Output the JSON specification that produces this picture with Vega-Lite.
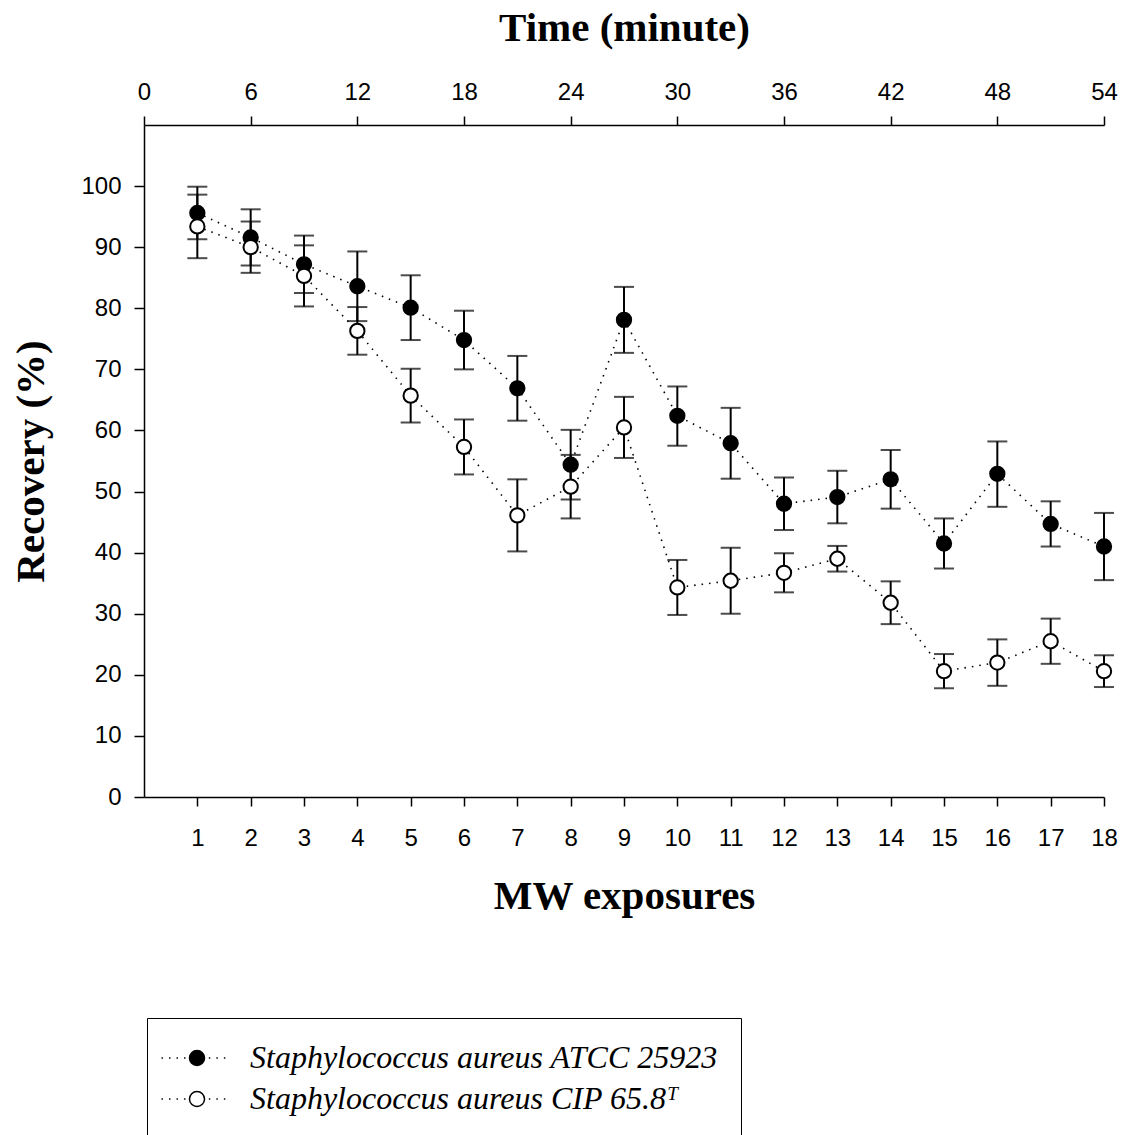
{
  "$schema": "https://vega.github.io/schema/vega-lite/v6.json",
  "autosize": "none",
  "padding": {"left": 144, "top": 125, "right": 31, "bottom": 338},
  "width": 960,
  "height": 672,
  "background": "white",
  "data": {
    "values": [
      {"exposure": 1, "series": "Staphylococcus aureus ATCC 25923", "recovery": 95.6, "lo": 91.3, "hi": 99.9},
      {"exposure": 2, "series": "Staphylococcus aureus ATCC 25923", "recovery": 91.6, "lo": 87.0, "hi": 96.2},
      {"exposure": 3, "series": "Staphylococcus aureus ATCC 25923", "recovery": 87.2, "lo": 82.5, "hi": 91.9},
      {"exposure": 4, "series": "Staphylococcus aureus ATCC 25923", "recovery": 83.6, "lo": 77.9, "hi": 89.3},
      {"exposure": 5, "series": "Staphylococcus aureus ATCC 25923", "recovery": 80.1, "lo": 74.8, "hi": 85.4},
      {"exposure": 6, "series": "Staphylococcus aureus ATCC 25923", "recovery": 74.8, "lo": 70.0, "hi": 79.6},
      {"exposure": 7, "series": "Staphylococcus aureus ATCC 25923", "recovery": 66.9, "lo": 61.6, "hi": 72.2},
      {"exposure": 8, "series": "Staphylococcus aureus ATCC 25923", "recovery": 54.4, "lo": 48.7, "hi": 60.1},
      {"exposure": 9, "series": "Staphylococcus aureus ATCC 25923", "recovery": 78.1, "lo": 72.7, "hi": 83.5},
      {"exposure": 10, "series": "Staphylococcus aureus ATCC 25923", "recovery": 62.4, "lo": 57.5, "hi": 67.2},
      {"exposure": 11, "series": "Staphylococcus aureus ATCC 25923", "recovery": 57.9, "lo": 52.1, "hi": 63.7},
      {"exposure": 12, "series": "Staphylococcus aureus ATCC 25923", "recovery": 48.0, "lo": 43.7, "hi": 52.3},
      {"exposure": 13, "series": "Staphylococcus aureus ATCC 25923", "recovery": 49.1, "lo": 44.8, "hi": 53.4},
      {"exposure": 14, "series": "Staphylococcus aureus ATCC 25923", "recovery": 52.0, "lo": 47.2, "hi": 56.8},
      {"exposure": 15, "series": "Staphylococcus aureus ATCC 25923", "recovery": 41.5, "lo": 37.4, "hi": 45.6},
      {"exposure": 16, "series": "Staphylococcus aureus ATCC 25923", "recovery": 52.9, "lo": 47.5, "hi": 58.2},
      {"exposure": 17, "series": "Staphylococcus aureus ATCC 25923", "recovery": 44.7, "lo": 41.0, "hi": 48.4},
      {"exposure": 18, "series": "Staphylococcus aureus ATCC 25923", "recovery": 41.0, "lo": 35.5, "hi": 46.5},
      {"exposure": 1, "series": "Staphylococcus aureus CIP 65.8ᵀ", "recovery": 93.4, "lo": 88.2, "hi": 98.6},
      {"exposure": 2, "series": "Staphylococcus aureus CIP 65.8ᵀ", "recovery": 90.0, "lo": 85.8, "hi": 94.2},
      {"exposure": 3, "series": "Staphylococcus aureus CIP 65.8ᵀ", "recovery": 85.3, "lo": 80.3, "hi": 90.3},
      {"exposure": 4, "series": "Staphylococcus aureus CIP 65.8ᵀ", "recovery": 76.3, "lo": 72.4, "hi": 80.2},
      {"exposure": 5, "series": "Staphylococcus aureus CIP 65.8ᵀ", "recovery": 65.7, "lo": 61.3, "hi": 70.1},
      {"exposure": 6, "series": "Staphylococcus aureus CIP 65.8ᵀ", "recovery": 57.3, "lo": 52.8, "hi": 61.8},
      {"exposure": 7, "series": "Staphylococcus aureus CIP 65.8ᵀ", "recovery": 46.1, "lo": 40.2, "hi": 52.0},
      {"exposure": 8, "series": "Staphylococcus aureus CIP 65.8ᵀ", "recovery": 50.8, "lo": 45.6, "hi": 56.0},
      {"exposure": 9, "series": "Staphylococcus aureus CIP 65.8ᵀ", "recovery": 60.5, "lo": 55.5, "hi": 65.5},
      {"exposure": 10, "series": "Staphylococcus aureus CIP 65.8ᵀ", "recovery": 34.3, "lo": 29.8, "hi": 38.8},
      {"exposure": 11, "series": "Staphylococcus aureus CIP 65.8ᵀ", "recovery": 35.4, "lo": 30.0, "hi": 40.8},
      {"exposure": 12, "series": "Staphylococcus aureus CIP 65.8ᵀ", "recovery": 36.7, "lo": 33.5, "hi": 39.9},
      {"exposure": 13, "series": "Staphylococcus aureus CIP 65.8ᵀ", "recovery": 39.0, "lo": 36.9, "hi": 41.1},
      {"exposure": 14, "series": "Staphylococcus aureus CIP 65.8ᵀ", "recovery": 31.8, "lo": 28.3, "hi": 35.3},
      {"exposure": 15, "series": "Staphylococcus aureus CIP 65.8ᵀ", "recovery": 20.6, "lo": 17.8, "hi": 23.4},
      {"exposure": 16, "series": "Staphylococcus aureus CIP 65.8ᵀ", "recovery": 22.0, "lo": 18.2, "hi": 25.8},
      {"exposure": 17, "series": "Staphylococcus aureus CIP 65.8ᵀ", "recovery": 25.5, "lo": 21.8, "hi": 29.2},
      {"exposure": 18, "series": "Staphylococcus aureus CIP 65.8ᵀ", "recovery": 20.6, "lo": 18.0, "hi": 23.2}
    ]
  },
  "layer": [
    {
      "mark": {"type": "line", "color": "black", "strokeWidth": 1.6, "strokeDash": [1.5, 6]},
      "encoding": {
        "x": {"field": "exposure", "type": "quantitative", "scale": {"domain": [0, 18], "nice": false},
              "axis": {"orient": "bottom", "values": [1,2,3,4,5,6,7,8,9,10,11,12,13,14,15,16,17,18], "title": "MW exposures", "tickSize": 9, "labelPadding": 20, "titlePadding": 26}},
        "y": {"field": "recovery", "type": "quantitative", "scale": {"domain": [0, 110], "nice": false},
              "axis": {"values": [0,10,20,30,40,50,60,70,80,90,100], "title": "Recovery (%)", "tickSize": 10, "labelPadding": 13, "titlePadding": 28}},
        "detail": {"field": "series"}
      }
    },
    {
      "mark": {"type": "rule", "color": "black", "strokeWidth": 2},
      "encoding": {
        "x": {"field": "exposure", "type": "quantitative", "axis": null},
        "y": {"field": "lo", "type": "quantitative",
              "axis": {"values": [0,10,20,30,40,50,60,70,80,90,100], "title": "Recovery (%)", "tickSize": 10, "labelPadding": 13, "titlePadding": 28}},
        "y2": {"field": "hi"}
      }
    },
    {
      "mark": {"type": "tick", "orient": "horizontal", "color": "black", "size": 20, "thickness": 2},
      "encoding": {
        "x": {"field": "exposure", "type": "quantitative", "axis": null},
        "y": {"field": "lo", "type": "quantitative",
              "axis": {"values": [0,10,20,30,40,50,60,70,80,90,100], "title": "Recovery (%)", "tickSize": 10, "labelPadding": 13, "titlePadding": 28}}
      }
    },
    {
      "mark": {"type": "tick", "orient": "horizontal", "color": "black", "size": 20, "thickness": 2},
      "encoding": {
        "x": {"field": "exposure", "type": "quantitative", "axis": null},
        "y": {"field": "hi", "type": "quantitative",
              "axis": {"values": [0,10,20,30,40,50,60,70,80,90,100], "title": "Recovery (%)", "tickSize": 10, "labelPadding": 13, "titlePadding": 28}}
      }
    },
    {
      "mark": {"type": "point", "shape": "circle", "filled": true, "size": 205, "stroke": "black", "strokeWidth": 2, "opacity": 1},
      "encoding": {
        "x": {"field": "exposure", "type": "quantitative",
              "axis": {"orient": "top", "values": [0,2,4,6,8,10,12,14,16,18], "labelExpr": "datum.value * 3", "title": "Time (minute)", "tickSize": 9, "labelPadding": 12, "titlePadding": 31}},
        "y": {"field": "recovery", "type": "quantitative",
              "axis": {"values": [0,10,20,30,40,50,60,70,80,90,100], "title": "Recovery (%)", "tickSize": 10, "labelPadding": 13, "titlePadding": 28}},
        "fill": {"field": "series", "type": "nominal",
                 "scale": {"domain": ["Staphylococcus aureus ATCC 25923", "Staphylococcus aureus CIP 65.8ᵀ"], "range": ["black", "white"]},
                 "legend": {"orient": "none", "legendX": 3, "legendY": 893, "title": null}}
      }
    }
  ],
  "resolve": {"axis": {"x": "independent"}},
  "config": {
    "view": {"stroke": null},
    "axis": {
      "grid": false,
      "labelFlush": false,
      "labelOverlap": false,
      "domainColor": "black", "domainWidth": 1.5,
      "tickColor": "black", "tickWidth": 1.5,
      "labelColor": "black", "labelFont": "Liberation Sans", "labelFontSize": 24,
      "titleColor": "black", "titleFont": "Liberation Serif", "titleFontSize": 41, "titleFontWeight": "bold"
    },
    "legend": {
      "strokeColor": "black",
      "padding": 23,
      "symbolType": "M-2.22,0h0.09M-1.75,0h0.09M-1.28,0h0.09M-0.81,0h0.09M0.74,0h0.09M1.21,0h0.09M1.68,0h0.09M0.47,0A0.47,0.47 0 1 1 -0.47,0A0.47,0.47 0 1 1 0.47,0Z",
      "symbolSize": 1024,
      "symbolStrokeColor": "black",
      "symbolStrokeWidth": 1.5,
      "symbolOffset": 10,
      "labelFont": "Liberation Serif",
      "labelFontSize": 32,
      "labelFontStyle": "italic",
      "labelColor": "black",
      "labelLimit": 900,
      "labelOffset": 36,
      "rowPadding": 8
    }
  }
}
